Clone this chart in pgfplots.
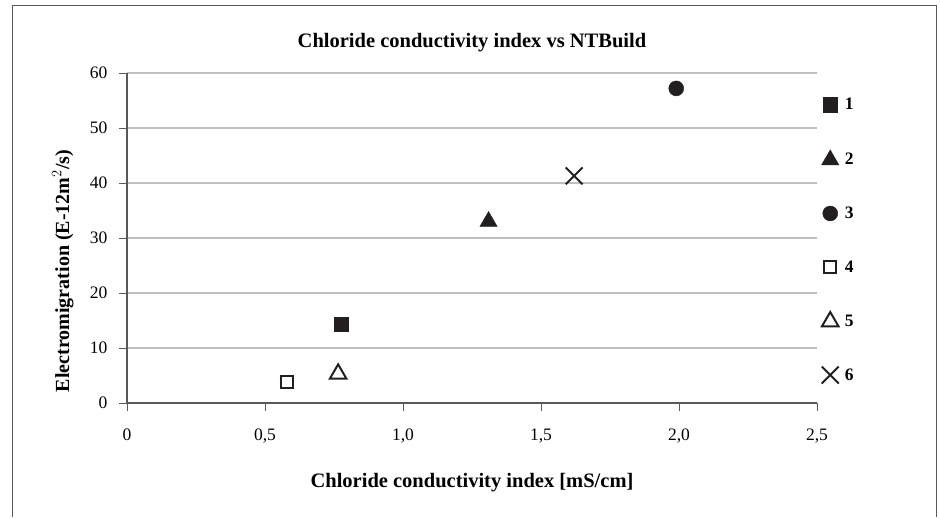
\documentclass[border=0pt]{standalone}
\usepackage{pgfplots}
\pgfplotsset{compat=1.18}
\usepackage{fontspec}
\setmainfont{Liberation Serif}
\definecolor{mk}{HTML}{231F20}
\definecolor{gridc}{HTML}{BFBFBF}
\definecolor{axc}{HTML}{595959}
\begin{document}
\begin{tikzpicture}
\path[use as bounding box] (0pt,0pt) rectangle (940pt,517pt);
\draw[line width=1pt, color=axc] (12pt,0pt) -- (12pt,511pt) -- (936pt,511pt) -- (936pt,0pt);
\begin{axis}[
  at={(127pt,114pt)}, anchor=origin,
  scale only axis, width=690pt, height=330pt,
  xmin=0, xmax=2.5, ymin=0, ymax=60,
  xtick={0,0.5,1,1.5,2,2.5},
  xticklabels={0,{0,5},{1,0},{1,5},{2,0},{2,5}},
  ytick={0,10,20,30,40,50,60},
  axis x line*=bottom, axis y line*=left,
  axis line style={color=axc, line width=1.2pt, -},
  major tick length=8pt,
  tick style={color=axc, line width=1pt},
  xtick align=outside, ytick align=outside,
  ymajorgrids, grid style={color=gridc, line width=1.2pt},
  /pgf/number format/assume math mode=true,
  tick label style={font=\fontsize{17.5}{20}\selectfont, color=black},
  xticklabel style={yshift=-14pt},
  yticklabel style={xshift=-8pt},
  title={\textbf{Chloride conductivity index vs NTBuild}},
  title style={font=\fontsize{20.5}{24}\selectfont, at={(0.5,1)}, anchor=south, yshift=12pt},
  xlabel={\textbf{Chloride conductivity index [mS/cm]}},
  xlabel style={font=\fontsize{20.5}{24}\selectfont, at={(0.5,0)}, anchor=north, yshift=-67pt},
  ylabel={\textbf{Electromigration (E-12m$^{2}$/s)}},
  ylabel style={font=\fontsize{20}{24}\selectfont, at={(-0.093,0.40)}, anchor=center, rotate=0},
  legend style={draw=none, fill=none, at={(1.002,0.936)}, anchor=north west,
    font=\fontsize{17.5}{20}\selectfont\bfseries, row sep=36.5pt, column sep=4pt},
  legend cell align=left,
]
\addplot[only marks, mark=square*, mark size=7.2pt, color=mk, fill=mk] coordinates {(0.775,14.3)};
\addlegendentry{1}
\addplot[only marks, mark=triangle*, mark size=10pt, color=mk, fill=mk] coordinates {(1.31,33.0)};
\addlegendentry{2}
\addplot[only marks, mark=*, mark size=7.5pt, color=mk, fill=mk] coordinates {(1.99,57.2)};
\addlegendentry{3}
\addplot[only marks, mark=square, mark size=6.2pt, color=mk, line width=2pt] coordinates {(0.58,3.8)};
\addlegendentry{4}
\addplot[only marks, mark=triangle, mark size=9.5pt, color=mk, line width=2pt] coordinates {(0.765,5.3)};
\addlegendentry{5}
\addplot[only marks, mark=x, mark size=12pt, color=mk, line width=2pt] coordinates {(1.62,41.3)};
\addlegendentry{6}
\end{axis}
\end{tikzpicture}
\end{document}
